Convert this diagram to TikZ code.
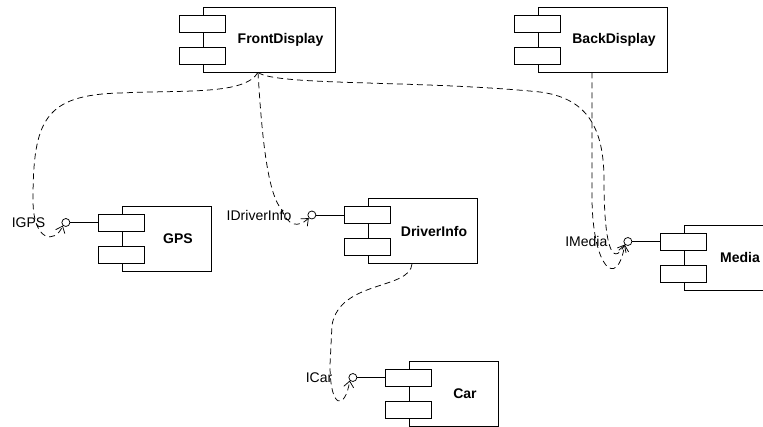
\documentclass[tikz,border=0pt]{standalone}
\usepackage{fontspec}
\setmainfont{Liberation Sans}
\usepackage{tikz}
\usetikzlibrary{arrows.meta,positioning}
\tikzstyle{comp} = [rectangle, draw, line width=0.75pt, minimum height=65pt, inner sep=0pt]
\tikzstyle{tab} = [rectangle, draw, fill=white, line width=0.75pt, minimum width=46pt, minimum height=17pt, inner sep=0pt]
\tikzstyle{compname} = [font=\fontsize{14}{16}\selectfont\bfseries]
\tikzstyle{iface} = [circle, draw, fill=white, line width=0.75pt, minimum size=8pt, inner sep=0pt]
\tikzstyle{ifname} = [font=\fontsize{14}{16}\selectfont, inner sep=0pt]
\tikzstyle{dep} = [line width=0.75pt, dash pattern=on 6pt off 4pt, -{Straight Barb[length=6pt,width=10pt]}]

\begin{document}
\begin{tikzpicture}[x=1pt, y=-1pt]
    \path[use as bounding box, clip] (0,0) rectangle (763,427);

    % FrontDisplay
    \node[comp, minimum width=132pt] (front) at (269,39.5) {};
    \node[tab] (front1) at ([yshift=16pt]front.west) {};
    \node[tab] (front2) at ([yshift=-16pt]front.west) {};
    \node[compname] (frontname) at ([xshift=11.5pt]front.center) {FrontDisplay};

    % BackDisplay
    \node[comp, minimum width=129pt] (back) at (602.5,39.5) {};
    \node[tab] (back1) at ([yshift=16pt]back.west) {};
    \node[tab] (back2) at ([yshift=-16pt]back.west) {};
    \node[compname] (backname) at ([xshift=11.5pt]back.center) {BackDisplay};

    % GPS
    \node[comp, minimum width=89pt] (gps) at (166.5,238.5) {};
    \node[tab] (gps1) at ([yshift=16pt]gps.west) {};
    \node[tab] (gps2) at ([yshift=-16pt]gps.west) {};
    \node[compname] (gpsname) at ([xshift=11.5pt]gps.center) {GPS};
    \node[iface, left=28pt of gps1] (igps) {};
    \node[ifname, left=16pt of igps] (igpsname) {IGPS};
    \draw[line width=0.75pt] (igps) -- (gps1);

    % DriverInfo
    \node[comp, minimum width=109pt] (drv) at (422.5,231) {};
    \node[tab] (drv1) at ([yshift=16pt]drv.west) {};
    \node[tab] (drv2) at ([yshift=-16pt]drv.west) {};
    \node[compname] (drvname) at ([xshift=11.5pt]drv.center) {DriverInfo};
    \node[iface, left=28pt of drv1] (idrv) {};
    \node[ifname, left=16pt of idrv] (idrvname) {IDriverInfo};
    \draw[line width=0.75pt] (idrv) -- (drv1);

    % Media
    \node[comp, minimum width=89pt] (media) at (728.5,257.5) {};
    \node[tab] (media1) at ([yshift=16pt]media.west) {};
    \node[tab] (media2) at ([yshift=-16pt]media.west) {};
    \node[compname] (medianame) at ([xshift=11.5pt]media.center) {Media};
    \node[iface, left=28pt of media1] (imedia) {};
    \node[ifname, left=16pt of imedia] (imedianame) {IMedia};
    \draw[line width=0.75pt] (imedia) -- (media1);

    % Car
    \node[comp, minimum width=89pt] (car) at (453.5,393.5) {};
    \node[tab] (car1) at ([yshift=16pt]car.west) {};
    \node[tab] (car2) at ([yshift=-16pt]car.west) {};
    \node[compname] (carname) at ([xshift=11.5pt]car.center) {Car};
    \node[iface, left=28pt of car1] (icar) {};
    \node[ifname, left=16pt of icar] (icarname) {ICar};
    \draw[line width=0.75pt] (icar) -- (car1);

    % Dependencies
    \draw[dep] ([xshift=-11pt]front.south) .. controls (245,95) and (185,90) .. (120,93)
        .. controls (45,95) and (33,120) .. (33,200) .. controls (33,242) and (55,244) .. (igps.225);
    \draw[dep] ([xshift=-11pt]front.south) .. controls (262,140) and (268,195) .. (282,210)
        .. controls (288,226) and (298,228) .. (idrv.225);
    \draw[dep] ([xshift=-11pt]front.south) .. controls (275,86) and (420,80) .. (540,92)
        .. controls (585,98) and (604,125) .. (604,180) .. controls (604,245) and (612,268) .. (imedia.225);
    \draw[dep] ([xshift=-10.5pt]back.south) -- (592,200) .. controls (593,268) and (617,290) .. (imedia.225);
    \draw[dep] ([xshift=-10.5pt]drv.south) .. controls (410,290) and (340,280) .. (332,325)
        -- (330,365) .. controls (330,410) and (345,410) .. (icar.225);
\end{tikzpicture}
\end{document}
